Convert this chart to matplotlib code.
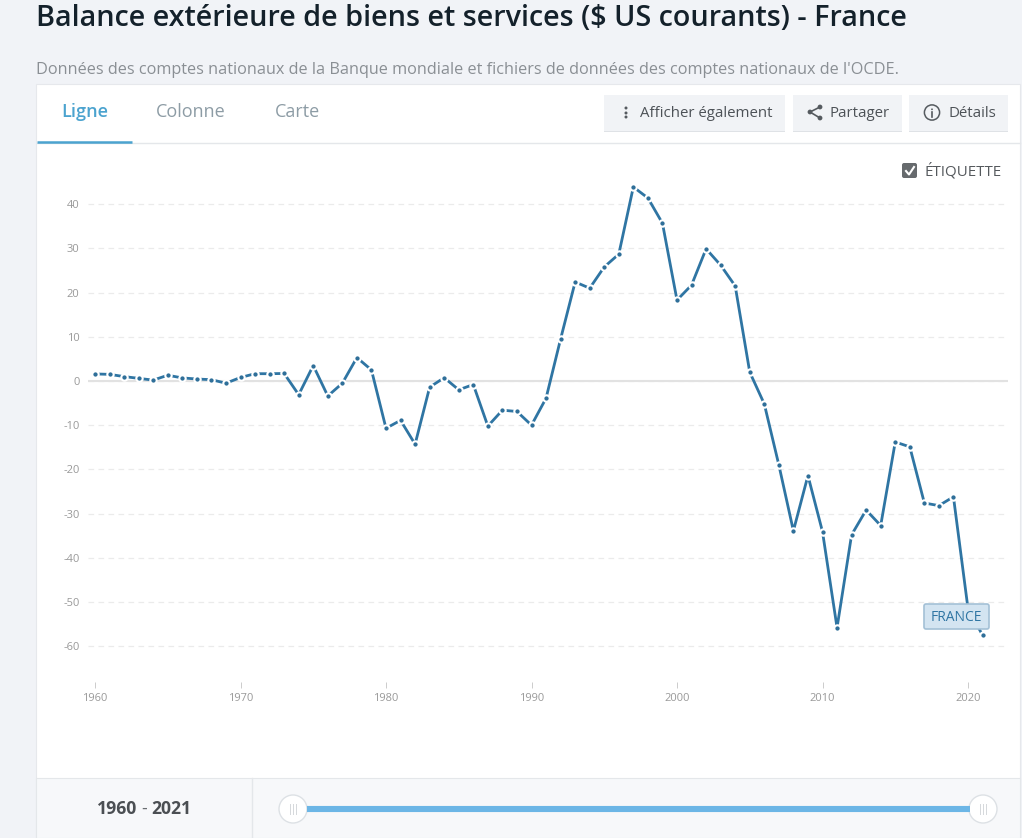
import matplotlib.pyplot as plt
from matplotlib.patches import Rectangle, FancyBboxPatch, Circle

plt.rcParams['font.family'] = ['Open Sans', 'DejaVu Sans']
plt.rcParams['axes.unicode_minus'] = False

years = list(range(1960, 2022))
balance = [1.6, 1.5, 1.0, 0.6, 0.2, 1.3, 0.7, 0.45, 0.3, -0.5,
           0.8, 1.65, 1.65, 1.7, -3.1, 3.5, -3.4, -0.5, 5.3, 2.5,
           -10.7, -8.9, -14.3, -1.4, 0.75, -2.0, -0.8, -10.2, -6.6, -6.9,
           -10.0, -3.9, 9.5, 22.4, 21.0, 25.8, 28.7, 43.9, 41.4, 35.7,
           18.3, 21.7, 29.9, 26.2, 21.5, 2.0, -5.2, -19.0, -33.9, -21.4,
           -34.1, -55.8, -34.8, -29.2, -32.7, -13.8, -14.9, -27.6, -28.2, -26.2,
           -51.5, -57.5]
y_ticks = [40, 30, 20, 10, 0, -10, -20, -30, -40, -50, -60]
x_ticks = [1960, 1970, 1980, 1990, 2000, 2010, 2020]

W, H = 1022, 838
fig = plt.figure(figsize=(W / 100, H / 100), dpi=100, facecolor='#f1f3f7')

# page furniture, in pixel coordinates
bg = fig.add_axes([0, 0, 1, 1], zorder=0)
bg.set_xlim(0, W)
bg.set_ylim(H, 0)
bg.axis('off')

bg.text(36, 19, 'Balance extérieure de biens et services ($ US courants) - France',
        fontsize=20.72, fontweight=600, color='#14212b', va='center')
bg.text(36, 70, "Données des comptes nationaux de la Banque mondiale et fichiers de données des comptes nationaux de l'OCDE.",
        fontsize=11.68, color='#8a8f94', va='center')

bg.add_patch(Rectangle((36, 84), 984, 760, fc='white', ec='#e6e8ec', lw=0.8))
bg.plot([37, 1020], [143.5, 143.5], color='#e4e7ea', lw=1)
bg.plot([37, 132], [142.5, 142.5], color='#4ba3cf', lw=1.8, solid_capstyle='butt')

bg.text(84.5, 112, 'Ligne', fontsize=13, fontweight=600, color='#4ba3cf', ha='center', va='center')
bg.text(191, 112, 'Colonne', fontsize=13, color='#8d9ca5', ha='center', va='center')
bg.text(297, 112, 'Carte', fontsize=13, color='#8d9ca5', ha='center', va='center')

# buttons
for x0, x1 in [(604, 785), (793, 902), (909, 1008)]:
    bg.add_patch(Rectangle((x0, 96), x1 - x0, 36, fc='#dfe2e6', ec='none'))
    bg.add_patch(Rectangle((x0, 95), x1 - x0, 36, fc='#f1f3f6', ec='none'))
bg.text(640.5, 113.5, 'Afficher également', fontsize=10.8, color='#4d5257', va='center')
bg.text(829.5, 113.5, 'Partager', fontsize=10.8, color='#4d5257', va='center')
bg.text(948, 113.5, 'Détails', fontsize=10.8, color='#4d5257', va='center')

# kebab icon
for yy in [108, 113, 117]:
    bg.add_patch(Circle((626, yy), 1.5, fc='#555a5f', ec='none'))
# share icon
bg.plot([820, 810, 820], [107, 112, 118], color='#555a5f', lw=1.2)
for xx, yy in [(820, 107), (810, 112), (820, 118)]:
    bg.add_patch(Circle((xx, yy), 2.4, fc='#555a5f', ec='none'))
# info icon
bg.add_patch(Circle((932, 112.5), 7.6, fc='none', ec='#555a5f', lw=1.1))
bg.add_patch(Circle((932, 109.3), 0.9, fc='#555a5f', ec='none'))
bg.plot([932, 932], [112, 117], color='#555a5f', lw=1.2)

# label checkbox
bg.add_patch(FancyBboxPatch((904, 165), 11, 11, boxstyle='round,pad=2,rounding_size=2', fc='#666a6d', ec='none'))
bg.plot([906, 909, 914], [171, 174.5, 167], color='white', lw=1.5)
bg.text(925, 171, 'ÉTIQUETTE', fontsize=10.9, color='#55595d', va='center')

# footer with range slider
bg.add_patch(Rectangle((36, 778), 984, 60, fc='#f7f8fa', ec='#e4e7ea', lw=0.8))
bg.plot([252, 252], [778, 838], color='#e4e7ea', lw=1)
bg.text(137.5, 809, '1960', fontsize=12.7, fontweight='bold', color='#4b4f53', ha='right', va='center')
bg.text(144, 809, '-', fontsize=12.7, color='#6a6e72', ha='center', va='center')
bg.text(151, 809, '2021', fontsize=12.7, fontweight='bold', color='#4b4f53', ha='left', va='center')
bg.plot([307, 970], [809, 809], color='#6cb6e6', lw=4.4, solid_capstyle='butt')
for cx in [293, 983]:
    bg.add_patch(Circle((cx, 809), 14, fc='white', ec='#dde1e5', lw=1))
    for dx in [-3, 0, 3]:
        bg.plot([cx + dx, cx + dx], [804, 814], color='#d5d8db', lw=0.7)

# chart
ax_left, ax_right, ax_top, ax_bottom = 88, 1008, 165, 682
ax = fig.add_axes([ax_left / W, 1 - ax_bottom / H, (ax_right - ax_left) / W, (ax_bottom - ax_top) / H],
                  zorder=1)
ax.patch.set_alpha(0)
ax.set_xlim(1960 + (ax_left - 95) / 14.55, 1960 + (ax_right - 95) / 14.55)
ax.set_ylim((381 - ax_bottom) / 4.42, (381 - ax_top) / 4.42)
for s in ax.spines.values():
    s.set_visible(False)
ax.set_yticks(y_ticks)
ax.set_xticks(x_ticks)
ax.tick_params(axis='y', length=0, labelsize=8, labelcolor='#999999', pad=6)
ax.tick_params(axis='x', length=4, width=0.7, color='#cccccc', labelsize=8, labelcolor='#999999', pad=4)
ax.grid(axis='y', color='#ebebeb', lw=0.9, dashes=(4.5, 3.5))
ax.set_axisbelow(True)
ax.axhline(0, color='#e2e2e2', lw=1.5, zorder=1.5)

ax.plot(years, balance, color='#2f75a3', lw=2.0, marker='o', ms=4.6, mfc='#2f6f99', mec='white', mew=1.5,
        clip_on=False, zorder=3)

# series label
bg2 = fig.add_axes([0, 0, 1, 1], zorder=2)
bg2.set_xlim(0, W)
bg2.set_ylim(H, 0)
bg2.axis('off')
bg2.add_patch(FancyBboxPatch((926, 606), 61, 21, boxstyle='round,pad=2,rounding_size=2', fc='#d3e4f1', ec='#a3c0d6', lw=1.2))
bg2.text(956.5, 617, 'FRANCE', fontsize=10, color='#2f75a3', ha='center', va='center')

fig.savefig('out.png', dpi=100, facecolor=fig.get_facecolor())
